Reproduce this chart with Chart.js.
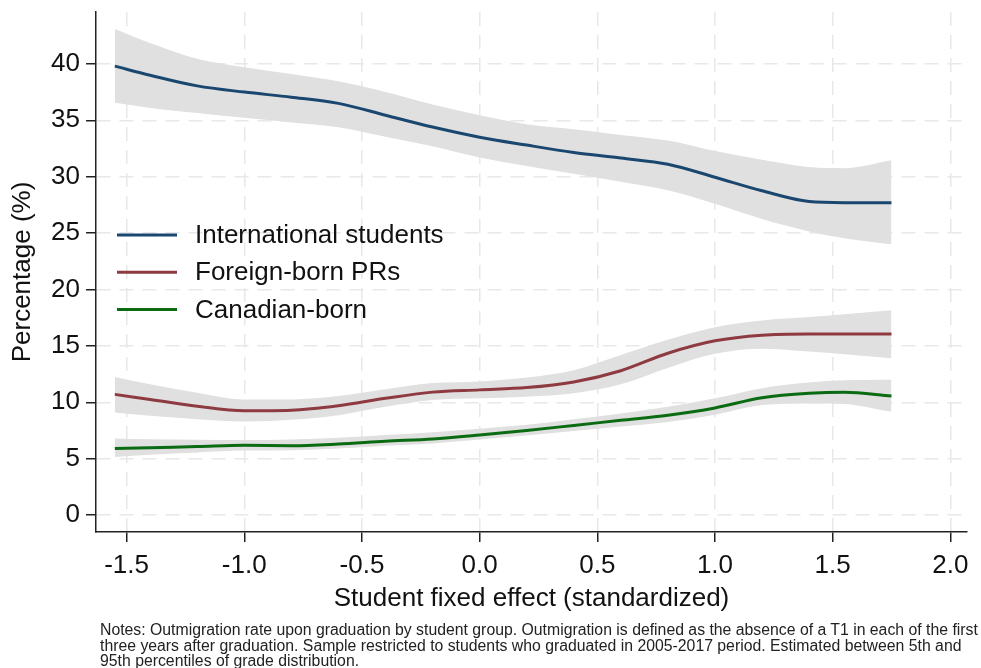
<!DOCTYPE html>
<html>
<head>
<meta charset="utf-8">
<script src="https://cdn.jsdelivr.net/npm/chart.js@4.4.0/dist/chart.umd.min.js"></script>
<style>
  body { margin: 0; background: #fff; }
  #wrap { position: relative; width: 981px; height: 668px; overflow: hidden; }
  #notes {
    position: absolute; left: 100px; top: 622px;
    font-family: "Liberation Sans", Arial, sans-serif; font-size: 15.8px;
    line-height: 15.5px; color: #222; white-space: nowrap;
  }
</style>
</head>
<body>
<div id="wrap">
  <canvas id="fxChart" width="981" height="668"></canvas>
  <div id="notes">Notes: Outmigration rate upon graduation by student group. Outmigration is defined as the absence of a T1 in each of the first<br>three years after graduation. Sample restricted to students who graduated in 2005-2017 period. Estimated between 5th and<br>95th percentiles of grade distribution.</div>
</div>
<script>
// student fixed effect (standardized)
const fx = [-1.55, -1.4, -1.2, -1.0, -0.8, -0.6, -0.4, -0.2, 0.0, 0.2, 0.4, 0.6, 0.8, 1.0, 1.2, 1.4, 1.55, 1.75];

// International students
const intl      = [39.8, 39.0, 38.05, 37.5, 37.05, 36.5, 35.45, 34.4, 33.5, 32.8, 32.15, 31.65, 31.1, 29.95, 28.75, 27.8, 27.7, 27.7];
const intlUpper = [43.1, 41.85, 40.45, 39.7, 39.1, 38.45, 37.5, 36.4, 35.45, 34.65, 34.2, 33.7, 33.2, 32.27, 31.5, 30.85, 30.75, 31.45];
const intlLower = [36.55, 36.1, 35.65, 35.22, 34.8, 34.38, 33.55, 32.7, 31.7, 30.95, 30.25, 29.55, 28.8, 27.6, 26.25, 25.15, 24.55, 24.0];

// Foreign-born PRs
const pr      = [10.7, 10.25, 9.65, 9.25, 9.3, 9.7, 10.35, 10.9, 11.1, 11.3, 11.8, 12.8, 14.35, 15.45, 15.95, 16.05, 16.05, 16.05];
const prUpper = [12.25, 11.6, 10.85, 10.25, 10.25, 10.55, 11.15, 11.7, 11.85, 12.2, 12.85, 14.2, 15.55, 16.65, 17.25, 17.55, 17.8, 18.15];
const prLower = [9.1, 8.8, 8.5, 8.3, 8.45, 8.85, 9.6, 10.2, 10.35, 10.5, 10.8, 11.6, 13.05, 14.3, 14.75, 14.5, 14.25, 13.9];

// Canadian-born
const cdn      = [5.9, 5.98, 6.07, 6.18, 6.15, 6.3, 6.55, 6.75, 7.1, 7.5, 7.95, 8.4, 8.85, 9.5, 10.4, 10.8, 10.9, 10.55];
const cdnUpper = [6.8, 6.72, 6.68, 6.65, 6.7, 6.85, 7.1, 7.35, 7.65, 8.0, 8.5, 9.0, 9.6, 10.35, 11.25, 11.75, 11.95, 12.0];
const cdnLower = [5.15, 5.35, 5.55, 5.72, 5.75, 5.9, 6.15, 6.35, 6.7, 7.05, 7.45, 7.85, 8.25, 8.9, 9.75, 9.9, 9.85, 9.15];

const seriesNames = ['International students', 'Foreign-born PRs', 'Canadian-born'];
const seriesColors = ['#1a476f', '#8e3a41', '#0b6b12'];

const xTicks = [-1.5, -1.0, -0.5, 0.0, 0.5, 1.0, 1.5, 2.0];
const yTicks = [0, 5, 10, 15, 20, 25, 30, 35, 40];

const FONT = '"Liberation Sans", Arial, sans-serif';
const bandColor = '#e0e0e0';

function pts(ys) {
    return fx.map((x, i) => ({x: x, y: ys[i]}));
}

function band(upper, lower) {
    const common = {
        pointRadius: 0, borderWidth: 0, backgroundColor: bandColor,
        cubicInterpolationMode: 'monotone', order: 3
    };
    return [
        Object.assign({label: 'hi', data: pts(upper), fill: false}, common),
        Object.assign({label: 'lo', data: pts(lower), fill: '-1'}, common)
    ];
}

function line(name, ys, color) {
    return {
        label: name, data: pts(ys), borderColor: color, borderWidth: 3,
        pointRadius: 0, fill: false, cubicInterpolationMode: 'monotone', order: 1
    };
}

// legend drawn inside the plot, no box
const innerLegend = {
    id: 'innerLegend',
    afterDatasetsDraw(chart) {
        const ctx = chart.ctx;
        const a = chart.chartArea;
        ctx.save();
        ctx.font = '26px ' + FONT;
        ctx.textBaseline = 'middle';
        seriesNames.forEach((name, i) => {
            const y = a.top + 223 + i * 37.2;
            ctx.strokeStyle = seriesColors[i];
            ctx.lineWidth = 3;
            ctx.beginPath();
            ctx.moveTo(a.left + 21, y);
            ctx.lineTo(a.left + 81, y);
            ctx.stroke();
            ctx.fillStyle = '#111';
            ctx.fillText(name, a.left + 99, y + 1);
        });
        ctx.restore();
    }
};

const gridOpts = {
    color: '#e8e8e8', lineWidth: 1.5, tickLength: 10,
    tickColor: '#222', tickWidth: 1.5, tickBorderDash: []
};

const ctx = document.getElementById('fxChart').getContext('2d');
const fxChart = new Chart(ctx, {
    type: 'line',
    data: {
        datasets: [].concat(
            band(intlUpper, intlLower),
            band(prUpper, prLower),
            band(cdnUpper, cdnLower),
            [line(seriesNames[0], intl, seriesColors[0]),
             line(seriesNames[1], pr, seriesColors[1]),
             line(seriesNames[2], cdn, seriesColors[2])]
        )
    },
    options: {
        responsive: false,
        animation: false,
        layout: { padding: { top: 12, right: 14, bottom: 48, left: 0 } },
        plugins: { legend: { display: false }, tooltip: { enabled: false } },
        scales: {
            x: {
                type: 'linear', min: -1.63, max: 2.071,
                afterBuildTicks: s => { s.ticks = xTicks.map(v => ({value: v})); },
                afterFit: s => { s.height = 88; s.paddingLeft = 0; s.paddingRight = 0; },
                grid: gridOpts,
                border: { display: true, color: '#222', width: 1.5, dash: [14, 9] },
                ticks: {
                    padding: 8, color: '#111', maxRotation: 0,
                    font: { family: FONT, size: 26 },
                    callback: v => v.toFixed(1)
                },
                title: {
                    display: true, text: 'Student fixed effect (standardized)', color: '#111',
                    font: { family: FONT, size: 26 }, padding: { top: 0, bottom: 6 }
                }
            },
            y: {
                type: 'linear', min: -1.5, max: 44.6,
                afterBuildTicks: s => { s.ticks = yTicks.map(v => ({value: v})); },
                afterFit: s => { s.width = 96; s.paddingTop = 0; s.paddingBottom = 0; },
                grid: gridOpts,
                border: { display: true, color: '#222', width: 1.5, dash: [14, 9] },
                ticks: {
                    padding: 6, color: '#111',
                    font: { family: FONT, size: 26 }
                },
                title: {
                    display: true, text: 'Percentage (%)', color: '#111',
                    font: { family: FONT, size: 26 }, padding: { top: 7, bottom: 0 }
                }
            }
        }
    },
    plugins: [innerLegend]
});
</script>
</body>
</html>
